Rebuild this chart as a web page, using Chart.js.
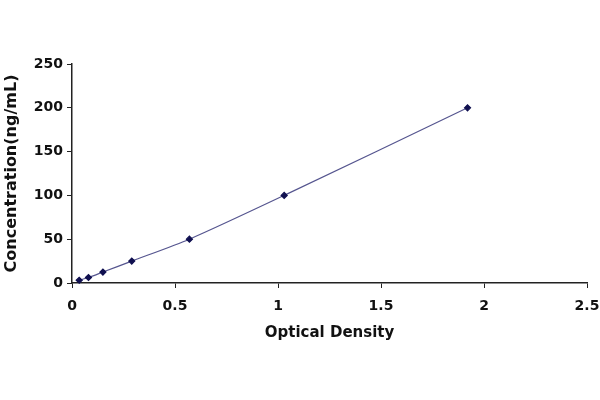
<!DOCTYPE html>
<html>
<head>
<meta charset="utf-8">
<script src="https://cdn.jsdelivr.net/npm/chart.js@4/dist/chart.umd.min.js"></script>
<style>
  html, body { margin: 0; padding: 0; background: #fff; }
  #wrap { width: 600px; height: 400px; }
</style>
</head>
<body>
<div id="wrap"><canvas id="stdCurve"></canvas></div>
<script>
// Standard curve readings
var opticalDensity = [0.035, 0.08, 0.15, 0.29, 0.57, 1.03, 1.92];
var concentration = [3.12, 6.25, 12.5, 25, 50, 100, 200];

// Axis ticks
var xTicks = [0, 0.5, 1, 1.5, 2, 2.5];
var yTicks = [0, 50, 100, 150, 200, 250];

var points = [];
for (var i = 0; i < opticalDensity.length; i++) {
  points.push({ x: opticalDensity[i], y: concentration[i] });
}

var tickFont = { family: "'DejaVu Sans', sans-serif", size: 14, weight: "bold" };
var xTitleFont = { family: "'DejaVu Sans', sans-serif", size: 15, weight: "bold" };
var yTitleFont = { family: "'DejaVu Sans', sans-serif", size: 16, weight: "bold" };

var ctx = document.getElementById("stdCurve").getContext("2d");
var chart = new Chart(ctx, {
  type: "scatter",
  data: {
    datasets: [{
      data: points,
      showLine: true,
      tension: 0.25,
      borderColor: "#55558f",
      borderWidth: 1.2,
      pointStyle: "rectRot",
      pointRadius: 3,
      pointBackgroundColor: "#101050",
      pointBorderColor: "#101050",
      clip: false
    }]
  },
  options: {
    responsive: true,
    maintainAspectRatio: false,
    animation: false,
    layout: { padding: { top: 64, right: 13, left: 0, bottom: 0 } },
    plugins: { legend: { display: false }, tooltip: { enabled: false } },
    scales: {
      x: {
        type: "linear",
        min: 0,
        max: 2.5,
        afterBuildTicks: function(scale) {
          scale.ticks = xTicks.map(function(v) { return { value: v }; });
        },
        afterFit: function(scale) {
          scale.height = 117;
          scale.paddingLeft = 0;
          scale.paddingRight = 0;
        },
        grid: { drawOnChartArea: false, tickLength: 5, color: "#222" },
        border: { color: "#222", width: 1.5 },
        ticks: {
          color: "#111",
          font: tickFont,
          padding: 10,
          maxRotation: 0,
          callback: function(v) { return String(v); }
        },
        title: {
          display: true,
          text: "Optical Density",
          color: "#111",
          font: xTitleFont,
          padding: { top: 0, bottom: 58 }
        }
      },
      y: {
        type: "linear",
        min: 0,
        max: 250,
        afterBuildTicks: function(scale) {
          scale.ticks = yTicks.map(function(v) { return { value: v }; });
        },
        afterFit: function(scale) {
          scale.width = 72;
        },
        grid: { drawOnChartArea: false, tickLength: 5, color: "#222" },
        border: { color: "#222", width: 1.5 },
        ticks: { color: "#111", font: tickFont, padding: 4 },
        title: {
          display: true,
          text: "Concentration(ng/mL)",
          color: "#111",
          font: yTitleFont,
          padding: { top: 2, bottom: 0 }
        }
      }
    }
  }
});
</script>
</body>
</html>
